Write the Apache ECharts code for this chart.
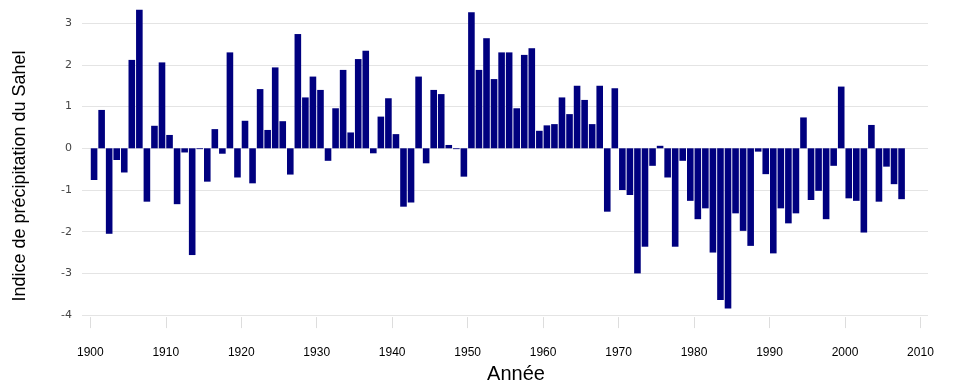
<!DOCTYPE html>
<html>
<head>
<meta charset="utf-8">
<script src="https://cdn.jsdelivr.net/npm/echarts@6/dist/echarts.min.js"></script>
<style>
html,body{margin:0;padding:0;background:#fff;}
#chart{width:953px;height:382px;}
</style>
</head>
<body>
<div id="chart"></div>
<script>
const years = [
1900,1901,1902,1903,1904,1905,1906,1907,1908,1909,
1910,1911,1912,1913,1914,1915,1916,1917,1918,1919,
1920,1921,1922,1923,1924,1925,1926,1927,1928,1929,
1930,1931,1932,1933,1934,1935,1936,1937,1938,1939,
1940,1941,1942,1943,1944,1945,1946,1947,1948,1949,
1950,1951,1952,1953,1954,1955,1956,1957,1958,1959,
1960,1961,1962,1963,1964,1965,1966,1967,1968,1969,
1970,1971,1972,1973,1974,1975,1976,1977,1978,1979,
1980,1981,1982,1983,1984,1985,1986,1987,1988,1989,
1990,1991,1992,1993,1994,1995,1996,1997,1998,1999,
2000,2001,2002,2003,2004,2005,2006,2007];

const sahelIndex = [
-0.76,0.92,-2.05,-0.28,-0.58,2.12,3.32,-1.28,0.54,2.06,
0.32,-1.34,-0.10,-2.56,-0.02,-0.80,0.46,-0.13,2.30,-0.70,
0.66,-0.84,1.42,0.44,1.94,0.65,-0.63,2.74,1.22,1.72,
1.40,-0.30,0.96,1.88,0.38,2.14,2.34,-0.12,0.76,1.20,
0.34,-1.40,-1.30,1.72,-0.36,1.40,1.30,0.08,-0.02,-0.68,
3.26,1.88,2.64,1.66,2.30,2.30,0.96,2.24,2.40,0.42,
0.55,0.58,1.22,0.82,1.50,1.16,0.58,1.50,-1.52,1.44,
-1.00,-1.12,-3.00,-2.36,-0.42,0.06,-0.70,-2.36,-0.30,-1.26,
-1.70,-1.44,-2.50,-3.64,-3.84,-1.56,-1.98,-2.34,-0.08,-0.62,
-2.52,-1.44,-1.80,-1.56,0.74,-1.24,-1.02,-1.70,-0.42,1.48,
-1.20,-1.26,-2.02,0.56,-1.28,-0.44,-0.86,-1.22];

const xTicks = [1900,1910,1920,1930,1940,1950,1960,1970,1980,1990,2000,2010];
const yTicks = [-4,-3,-2,-1,0,1,2,3];

const xTitle = 'Année';
const yTitle = 'Indice de précipitation du Sahel';

// each bar covers its whole year (from Jan 1 to Jan 1 of next year)
const barData = years.map((y, i) => [y + 0.5, sahelIndex[i]]);

const chart = echarts.init(document.getElementById('chart'), null, {renderer: 'canvas'});
chart.setOption({
  animation: false,
  backgroundColor: '#ffffff',
  grid: {left: 82, right: 25, top: -18.5, bottom: 66.9, outerBoundsMode: 'none', containLabel: false},
  xAxis: {
    type: 'value',
    min: 1898.9,
    max: 2011,
    offset: 2,
    axisLine: {show: false, onZero: false},
    axisTick: {show: true, length: 11, customValues: xTicks, lineStyle: {color: '#dddddd', width: 1}},
    axisLabel: {customValues: xTicks, margin: 30, color: '#000', fontSize: 12,
      fontFamily: 'Liberation Sans, Arial, sans-serif', formatter: v => String(v)},
    splitLine: {show: false},
    name: xTitle,
    nameLocation: 'middle',
    nameGap: 43,
    nameTextStyle: {color: '#000', fontSize: 20, fontFamily: 'Liberation Sans, Arial, sans-serif', padding: [0, 0, 0, 22]}
  },
  yAxis: {
    type: 'value',
    min: -4,
    max: 4,
    interval: 1,
    axisLine: {show: false},
    axisTick: {show: false},
    axisLabel: {
      margin: 10, color: '#444', fontSize: 11, fontFamily: 'DejaVu Sans, sans-serif',
      formatter: v => (yTicks.indexOf(v) >= 0 ? String(v) : '')
    },
    splitLine: {show: true, lineStyle: {color: '#e4e4e4', width: 1}}
  },
  graphic: [{
    type: 'text',
    x: 20, y: 176,
    rotation: Math.PI / 2,
    style: {
      text: yTitle,
      fill: '#000',
      font: '18px "Liberation Sans", Arial, sans-serif',
      align: 'center',
      verticalAlign: 'middle'
    }
  }],
  series: [{
    type: 'bar',
    data: barData,
    barWidth: 6.6,
    itemStyle: {color: '#00007f'}
  }]
});
</script>
</body>
</html>
